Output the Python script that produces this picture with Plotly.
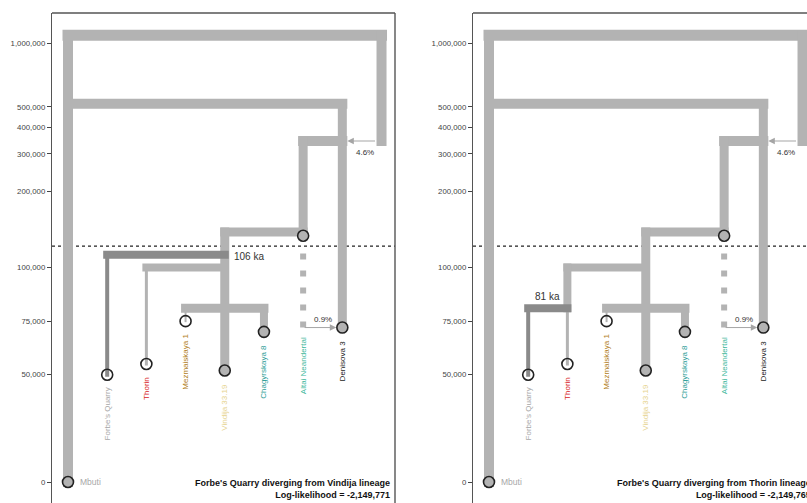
import math
import plotly.graph_objects as go

# ---------------------------------------------------------------- data
columns = ["Mbuti", "Forbe's Quarry", "Thorin", "Mezmaiskaya 1",
           "Vindija 33.19", "Chagyrskaya 8", "Altai Neandertal",
           "Denisova 3", "Ghost"]
col = {name: i for i, name in enumerate(columns)}

sample_names = ["Mbuti", "Forbe's Quarry", "Thorin", "Mezmaiskaya 1",
                "Vindija 33.19", "Chagyrskaya 8", "Altai Neandertal",
                "Denisova 3"]
sample_ages = [0, 50000, 55000, 75000, 52000, 70000, 123000, 72000]
sample_filled = [True, False, False, False, True, True, False, True]
sample_colors = ["#a8a8a8", "#a8a8a8", "#d7191c", "#b07d1a",
                 "#e6d38e", "#2a9d96", "#3db89c", "#1a1a1a"]

# split and admixture times, years before present
t_root = 1090000
t_archaic = 518000
t_nean_deni = 345000
t_nean_split = 128000
t_thorin = 100000
t_mez_chag = 81000
t_ghost_pulse = 345000
t_altai_pulse = 72000
ghost_pulse_label = "4.6%"
altai_pulse_label = "0.9%"

model_titles = ["Forbe's Quarry diverging from Vindija lineage",
                "Forbe's Quarry diverging from Thorin lineage"]
model_fq_parent = ["Vindija 33.19", "Thorin"]
model_fq_time = [106000, 81000]
model_loglik = ["-2,149,771", "-2,149,765"]

tick_vals = [0, 50000, 75000, 100000, 200000, 300000, 400000, 500000, 1000000]
tick_text = ["0", "50,000", "75,000", "100,000", "200,000", "300,000",
             "400,000", "500,000", "1,000,000"]
break_year = 110000

# ---------------------------------------------------------------- style
FONT = "Liberation Sans, Arial, sans-serif"
GREY = "#b3b3b3"
DARK = "#8a8a8a"
FIG_W, FIG_H = 807, 503
TOP = 13                      # top edge of the panels
PANEL_LEFT = [52, 473]
PANEL_W = 343
COL_STEP = 39.19              # pixels between lineage columns
COL_PAD = 16                  # first column offset from panel edge
ZERO_PAD = 21                 # zero line above the figure bottom
LIN_PX = 2.145 / 1000         # linear part of the time axis (px / year)
LOG_PX = 211.6                # log part of the time axis (px / decade)
LABEL_GAP = 11                # px between a sample point and its label


def ty(v):
    """Time axis: linear below the break, logarithmic above it."""
    if v <= break_year:
        return v * LIN_PX
    return break_year * LIN_PX + LOG_PX * math.log10(v / break_year)


fig = go.Figure()
axes = [("x", "y"), ("x2", "y2")]


def branch(xa, ya, x0, t0, x1, t1, w, color):
    """Thick branch segment drawn as a filled box with square ends."""
    hx = w / 2 / COL_STEP
    hy = w / 2
    X0, X1 = sorted([x0, x1])
    Y0, Y1 = sorted([ty(t0), ty(t1)])
    fig.add_trace(go.Scatter(
        x=[X0 - hx, X1 + hx, X1 + hx, X0 - hx, X0 - hx],
        y=[Y0 - hy, Y0 - hy, Y1 + hy, Y1 + hy, Y0 - hy],
        mode="lines", fill="toself", fillcolor=color,
        line=dict(width=0, color=color), hoverinfo="skip",
        showlegend=False, xaxis=xa, yaxis=ya))


annotations = []
shapes = []

for p in range(2):
    xa, ya = axes[p]
    parent = model_fq_parent[p]
    t_fq = model_fq_time[p]
    c = col

    # deep structure
    branch(xa, ya, c["Mbuti"], 0, c["Mbuti"], t_root, 10, GREY)
    branch(xa, ya, c["Mbuti"], t_root, c["Ghost"], t_root, 11, GREY)
    branch(xa, ya, c["Ghost"], t_root, c["Ghost"], t_ghost_pulse, 10, GREY)
    branch(xa, ya, c["Mbuti"], t_archaic, c["Denisova 3"], t_archaic, 10, GREY)
    branch(xa, ya, c["Denisova 3"], t_archaic, c["Denisova 3"], t_altai_pulse, 9, GREY)
    branch(xa, ya, c["Altai Neandertal"], t_nean_deni, c["Denisova 3"], t_nean_deni, 10, GREY)
    branch(xa, ya, c["Altai Neandertal"], t_nean_deni, c["Altai Neandertal"],
           sample_ages[6], 9, GREY)
    # Neandertal clade
    branch(xa, ya, c["Vindija 33.19"], t_nean_split, c["Altai Neandertal"], t_nean_split, 9, GREY)
    branch(xa, ya, c["Vindija 33.19"], t_nean_split, c["Vindija 33.19"], sample_ages[4], 9, GREY)
    branch(xa, ya, c["Mezmaiskaya 1"], t_mez_chag, c["Chagyrskaya 8"], t_mez_chag, 9, GREY)
    branch(xa, ya, c["Mezmaiskaya 1"], t_mez_chag, c["Mezmaiskaya 1"], sample_ages[3], 2, GREY)
    branch(xa, ya, c["Chagyrskaya 8"], t_mez_chag, c["Chagyrskaya 8"], sample_ages[5], 8, GREY)
    branch(xa, ya, c["Thorin"], t_thorin, c["Vindija 33.19"], t_thorin, 8, GREY)

    if parent == "Thorin":
        branch(xa, ya, c["Thorin"], t_thorin, c["Thorin"], t_fq, 8, GREY)
        branch(xa, ya, c["Thorin"], t_fq, c["Thorin"], sample_ages[2], 3, GREY)
    else:
        branch(xa, ya, c["Thorin"], t_thorin, c["Thorin"], sample_ages[2], 3, GREY)
    branch(xa, ya, c["Forbe's Quarry"], t_fq, c[parent], t_fq, 8, DARK)
    branch(xa, ya, c["Forbe's Quarry"], t_fq, c["Forbe's Quarry"], sample_ages[1], 4, DARK)

    # Altai lineage below its sample (dashed)
    fig.add_trace(go.Scatter(
        x=[c["Altai Neandertal"], c["Altai Neandertal"]],
        y=[ty(t_altai_pulse), ty(break_year)],
        mode="lines", line=dict(color=GREY, width=6, dash="6px,11px"),
        hoverinfo="skip", showlegend=False, xaxis=xa, yaxis=ya))

    # sample circles
    for filled in (True, False):
        idx = [i for i in range(len(sample_names)) if sample_filled[i] == filled]
        fig.add_trace(go.Scatter(
            x=[c[sample_names[i]] for i in idx],
            y=[ty(sample_ages[i]) for i in idx],
            mode="markers",
            marker=dict(size=11, color=GREY if filled else "rgba(0,0,0,0)",
                        line=dict(color="#222222", width=1.6)),
            hoverinfo="skip", showlegend=False, xaxis=xa, yaxis=ya))

    # sample labels
    for i, name in enumerate(sample_names):
        if name == "Mbuti":
            annotations.append(dict(
                x=c[name], y=ty(sample_ages[i]), xref=xa, yref=ya,
                text=name, showarrow=False, xanchor="left", yanchor="middle",
                xshift=10, font=dict(family=FONT, size=8.5, color=sample_colors[i])))
            continue
        age = t_altai_pulse if name == "Altai Neandertal" else sample_ages[i]
        gap = LABEL_GAP - 3 if name == "Altai Neandertal" else LABEL_GAP
        annotations.append(dict(
            x=c[name], y=ty(age), xref=xa, yref=ya, text=name,
            showarrow=False, textangle=-90, xanchor="center", yanchor="top",
            yshift=-gap, font=dict(family=FONT, size=8, color=sample_colors[i])))

    # admixture arrows
    annotations.append(dict(
        x=c["Denisova 3"], y=ty(t_ghost_pulse), ax=c["Ghost"], ay=ty(t_ghost_pulse),
        xref=xa, yref=ya, axref=xa, ayref=ya, text="", showarrow=True,
        arrowhead=2, arrowsize=1.3, arrowwidth=1, arrowcolor="#a5a5a5",
        standoff=5, startstandoff=5))
    annotations.append(dict(
        x=(c["Denisova 3"] + c["Ghost"]) / 2, y=ty(t_ghost_pulse), xref=xa, yref=ya,
        text=ghost_pulse_label, showarrow=False, yanchor="top", xshift=3, yshift=-5,
        font=dict(family=FONT, size=8, color="#333333")))
    annotations.append(dict(
        x=c["Denisova 3"], y=ty(t_altai_pulse), ax=c["Altai Neandertal"], ay=ty(t_altai_pulse),
        xref=xa, yref=ya, axref=xa, ayref=ya, text="", showarrow=True,
        arrowhead=2, arrowsize=1.3, arrowwidth=1, arrowcolor="#a5a5a5",
        standoff=6, startstandoff=0))
    annotations.append(dict(
        x=(c["Denisova 3"] + c["Altai Neandertal"]) / 2, y=ty(t_altai_pulse),
        xref=xa, yref=ya, text=altai_pulse_label, showarrow=False,
        yanchor="bottom", yshift=2,
        font=dict(family=FONT, size=8, color="#333333")))

    # Forbe's Quarry divergence time
    ka = f"{round(t_fq / 1000)} ka"
    if parent == "Thorin":
        annotations.append(dict(
            x=(c["Forbe's Quarry"] + c["Thorin"]) / 2, y=ty(t_fq), xref=xa, yref=ya,
            text=ka, showarrow=False, yanchor="bottom", yshift=4,
            font=dict(family=FONT, size=10, color="#333333")))
    else:
        annotations.append(dict(
            x=c[parent], y=ty(t_fq), xref=xa, yref=ya, text=ka,
            showarrow=False, xanchor="left", yanchor="middle", xshift=7, yshift=-2,
            font=dict(family=FONT, size=10, color="#333333")))

    # model title / likelihood
    annotations.append(dict(
        x=(PANEL_LEFT[p] + PANEL_W - 3) / FIG_W, y=1 / (FIG_H - TOP),
        xref="paper", yref="paper",
        text=f"<b>{model_titles[p]}</b><br><b>Log-likelihood = {model_loglik[p]}</b>",
        showarrow=False, xanchor="right", yanchor="bottom", align="right",
        font=dict(family=FONT, size=9, color="#111111")))

    # dotted line at the axis break
    shapes.append(dict(
        type="line", xref=f"{xa} domain", yref=ya, x0=0, x1=1,
        y0=ty(break_year), y1=ty(break_year), layer="below",
        line=dict(color="#222222", width=1.3, dash="dot")))
    # panel frame (top and right edges)
    shapes.append(dict(
        type="line", xref="paper", yref="paper",
        x0=PANEL_LEFT[p] / FIG_W, x1=min(1, (PANEL_LEFT[p] + PANEL_W) / FIG_W),
        y0=1, y1=1, line=dict(color="#555555", width=1.4)))
    if PANEL_LEFT[p] + PANEL_W <= FIG_W:
        shapes.append(dict(
            type="line", xref="paper", yref="paper",
            x0=(PANEL_LEFT[p] + PANEL_W) / FIG_W, x1=(PANEL_LEFT[p] + PANEL_W) / FIG_W,
            y0=0, y1=1, line=dict(color="#555555", width=1.4)))

yrange = [-ZERO_PAD, FIG_H - TOP - ZERO_PAD]
xrange_left = [-COL_PAD / COL_STEP, (PANEL_W - COL_PAD) / COL_STEP]
xrange_right = [-COL_PAD / COL_STEP, (FIG_W - PANEL_LEFT[1] - COL_PAD) / COL_STEP]

yaxis_style = dict(
    range=yrange, tickvals=[ty(v) for v in tick_vals], ticktext=tick_text,
    showgrid=False, zeroline=False, showline=True, linecolor="#555555",
    linewidth=1.4, ticks="outside", ticklen=4, tickwidth=1, tickcolor="#444444",
    tickfont=dict(family=FONT, size=7.8, color="#444444"), domain=[0, 1])
xaxis_style = dict(showgrid=False, zeroline=False, showline=False,
                   showticklabels=False, ticks="")

fig.update_layout(
    width=FIG_W, height=FIG_H,
    margin=dict(l=0, r=0, t=TOP, b=0),
    paper_bgcolor="white", plot_bgcolor="white",
    xaxis=dict(**xaxis_style, range=xrange_left,
               domain=[PANEL_LEFT[0] / FIG_W, (PANEL_LEFT[0] + PANEL_W) / FIG_W]),
    xaxis2=dict(**xaxis_style, range=xrange_right,
                domain=[PANEL_LEFT[1] / FIG_W, 1.0]),
    yaxis=dict(**yaxis_style, anchor="x"),
    yaxis2=dict(**yaxis_style, anchor="x2"),
    annotations=annotations, shapes=shapes,
    showlegend=False,
)

fig.write_html("out.html")
